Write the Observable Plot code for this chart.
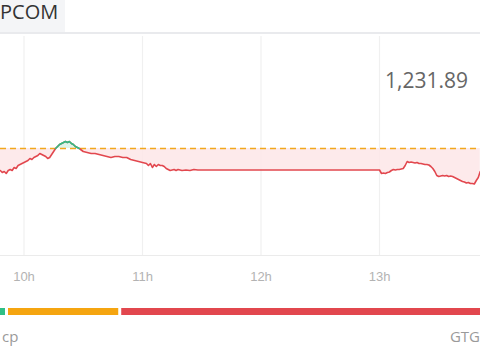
<!DOCTYPE html>
<html><head><meta charset="utf-8">
<script src="https://cdn.jsdelivr.net/npm/d3@7"></script>
<script src="https://cdn.jsdelivr.net/npm/@observablehq/plot@0.6"></script>
<style>
html,body{margin:0;padding:0;background:#fff;width:480px;height:360px;overflow:hidden;position:relative;font-family:"Open Sans",sans-serif;}
#tab{position:absolute;left:0;top:0;width:65px;height:32px;background:#f4f5f7;}
#tabtxt{position:absolute;left:0;top:1px;font-size:20px;line-height:22px;color:#333;}
#sep{position:absolute;left:0;top:32px;width:480px;height:2px;background:#e9eaed;}
#last{position:absolute;right:12px;top:69.5px;font-size:21px;line-height:21px;color:#666;}
#chart{position:absolute;left:0;top:0;}
#breadth{position:absolute;left:0;top:308px;}
.lab{position:absolute;top:329px;font-size:15px;line-height:15px;color:#9a9a9a;}
</style></head><body>
<div id="tab"></div>
<div id="tabtxt">PCOM</div>
<div id="sep"></div>
<div id="chart"></div>
<div id="last">1,231.89</div>
<div id="breadth"></div>
<div class="lab" style="left:2px">cp</div>
<div class="lab" style="right:0px">GTG</div>
<script>
// ---- data ----
const times = ["09:48","09:49","09:50","09:51","09:52","09:53","09:54","09:55","09:56","09:57","09:58","09:59",
"10:00","10:01","10:02","10:03","10:04","10:05","10:06","10:07","10:08","10:09","10:10","10:11","10:12","10:13",
"10:14","10:15","10:16","10:17","10:18","10:19","10:20","10:21","10:22","10:23","10:24","10:25","10:26","10:27",
"10:28","10:29","10:30","10:32","10:34","10:36","10:38","10:40","10:42","10:44","10:46","10:48","10:50","10:52",
"10:54","10:56","10:58","11:00","11:02","11:03","11:04","11:05","11:06","11:07","11:08","11:09","11:10","11:11",
"11:12","11:13","11:14","11:16","11:17","11:18","11:20","11:22","11:24","11:26","11:28","11:30",
"13:00","13:01","13:02","13:03","13:04","13:05","13:06","13:07","13:08","13:09","13:10","13:11","13:12","13:13",
"13:14","13:15","13:16","13:17","13:18","13:19","13:20","13:21","13:22","13:23","13:24","13:25","13:26","13:27",
"13:28","13:29","13:30","13:31","13:32","13:33","13:34","13:35","13:36","13:37","13:38","13:39","13:40","13:41",
"13:42","13:43","13:44","13:45","13:46","13:47","13:48","13:49","13:50","13:51"];
const values = [101.20,101.18,101.19,101.17,101.20,101.21,101.20,101.23,101.22,101.25,101.26,101.27,
101.28,101.29,101.30,101.32,101.31,101.33,101.34,101.35,101.37,101.36,101.35,101.34,101.32,101.33,
101.36,101.39,101.42,101.44,101.46,101.47,101.48,101.49,101.48,101.49,101.47,101.46,101.44,101.43,
101.42,101.405,101.39,101.38,101.37,101.37,101.36,101.35,101.34,101.33,101.34,101.34,101.33,101.33,
101.31,101.30,101.29,101.28,101.27,101.25,101.27,101.23,101.26,101.24,101.26,101.25,101.25,101.24,
101.22,101.21,101.20,101.21,101.20,101.21,101.20,101.205,101.20,101.21,101.205,101.205,
101.205,101.17,101.175,101.17,101.18,101.185,101.20,101.21,101.205,101.21,101.21,101.215,101.22,101.25,
101.29,101.28,101.285,101.28,101.275,101.28,101.27,101.27,101.265,101.26,101.26,101.255,101.24,101.22,
101.19,101.15,101.14,101.145,101.15,101.145,101.15,101.14,101.145,101.14,101.13,101.12,101.11,101.10,
101.09,101.085,101.075,101.08,101.07,101.07,101.065,101.10,101.13,101.19];
const refValue = 101.42;
const yDomain = [100.35, 102.54];
const xDomain = ["09:48:06", "13:51:08"];
const xTicks = ["10:00", "11:00", "12:00", "13:00"];
const breadthGroups = ["tăng", "đứng giá", "giảm"];
const breadthCounts = [12, 38, 180];
const breadthDomain = [9.82, 170.9];
const colors = {up: "#2fbf85", ref: "#f2a81d", down: "#e2474e", fillDown: "#fde6e8", fillUp: "#dff4ea", grid: "#f0f0f0", tick: "#b3b3b3"};
const breadthColors = [colors.up, "#f5a510", colors.down];

const parseT = s => { const p = s.split(":").map(Number); return new Date(2024, 0, 2, p[0], p[1], p[2] || 0); };
const data = times.map((t, i) => ({t: parseT(t), v: values[i]}));
const upData = data.filter(d => d.v >= refValue);

const chart = Plot.plot({
  width: 480, height: 290,
  marginLeft: 0, marginRight: 0, marginTop: 36, marginBottom: 35,
  style: {fontFamily: "'Liberation Sans', Arial, sans-serif", fontSize: "13px", background: "transparent", overflow: "visible"},
  x: {type: "time", domain: xDomain.map(parseT), ticks: xTicks.map(parseT), tickFormat: d => d.getHours() + "h", tickSize: 0, tickPadding: 16, label: null},
  y: {domain: yDomain, axis: null},
  marks: [
    Plot.gridX(xTicks.map(parseT), {stroke: colors.grid, strokeOpacity: 1, strokeWidth: 1.2}),
    Plot.ruleY([yDomain[0]], {stroke: "#ebebeb", strokeWidth: 1.2}),
    Plot.areaY(data, {x: "t", y1: () => refValue, y2: d => Math.min(d.v, refValue), fill: colors.fillDown, fillOpacity: 0.85, curve: "linear"}),
    Plot.areaY(data, {x: "t", y1: () => refValue, y2: d => Math.max(d.v, refValue), fill: colors.fillUp, curve: "linear"}),
    Plot.ruleY([refValue], {stroke: colors.ref, strokeWidth: 1.5, strokeDasharray: "6,4"}),
    Plot.line(data, {x: "t", y: "v", stroke: colors.down, strokeWidth: 1.6}),
    Plot.line(upData, {x: "t", y: "v", stroke: colors.up, strokeWidth: 1.6}),
    Plot.axisX({ticks: xTicks.map(parseT), tickFormat: d => d.getHours() + "h", tickSize: 0, tickPadding: 16, fill: colors.tick, label: null})
  ]
});
document.getElementById("chart").appendChild(chart);

const breadth = breadthGroups.map((g, i) => ({g, n: breadthCounts[i], c: breadthColors[i]}));
const bar = Plot.plot({
  width: 480, height: 7, margin: 0,
  x: {domain: breadthDomain, axis: null},
  color: {type: "identity"},
  marks: [
    Plot.barX(breadth, Plot.stackX({x: "n", fill: "c", insetLeft: 1.5, insetRight: 1.5, clip: true}))
  ]
});
document.getElementById("breadth").appendChild(bar);
</script>
</body></html>
